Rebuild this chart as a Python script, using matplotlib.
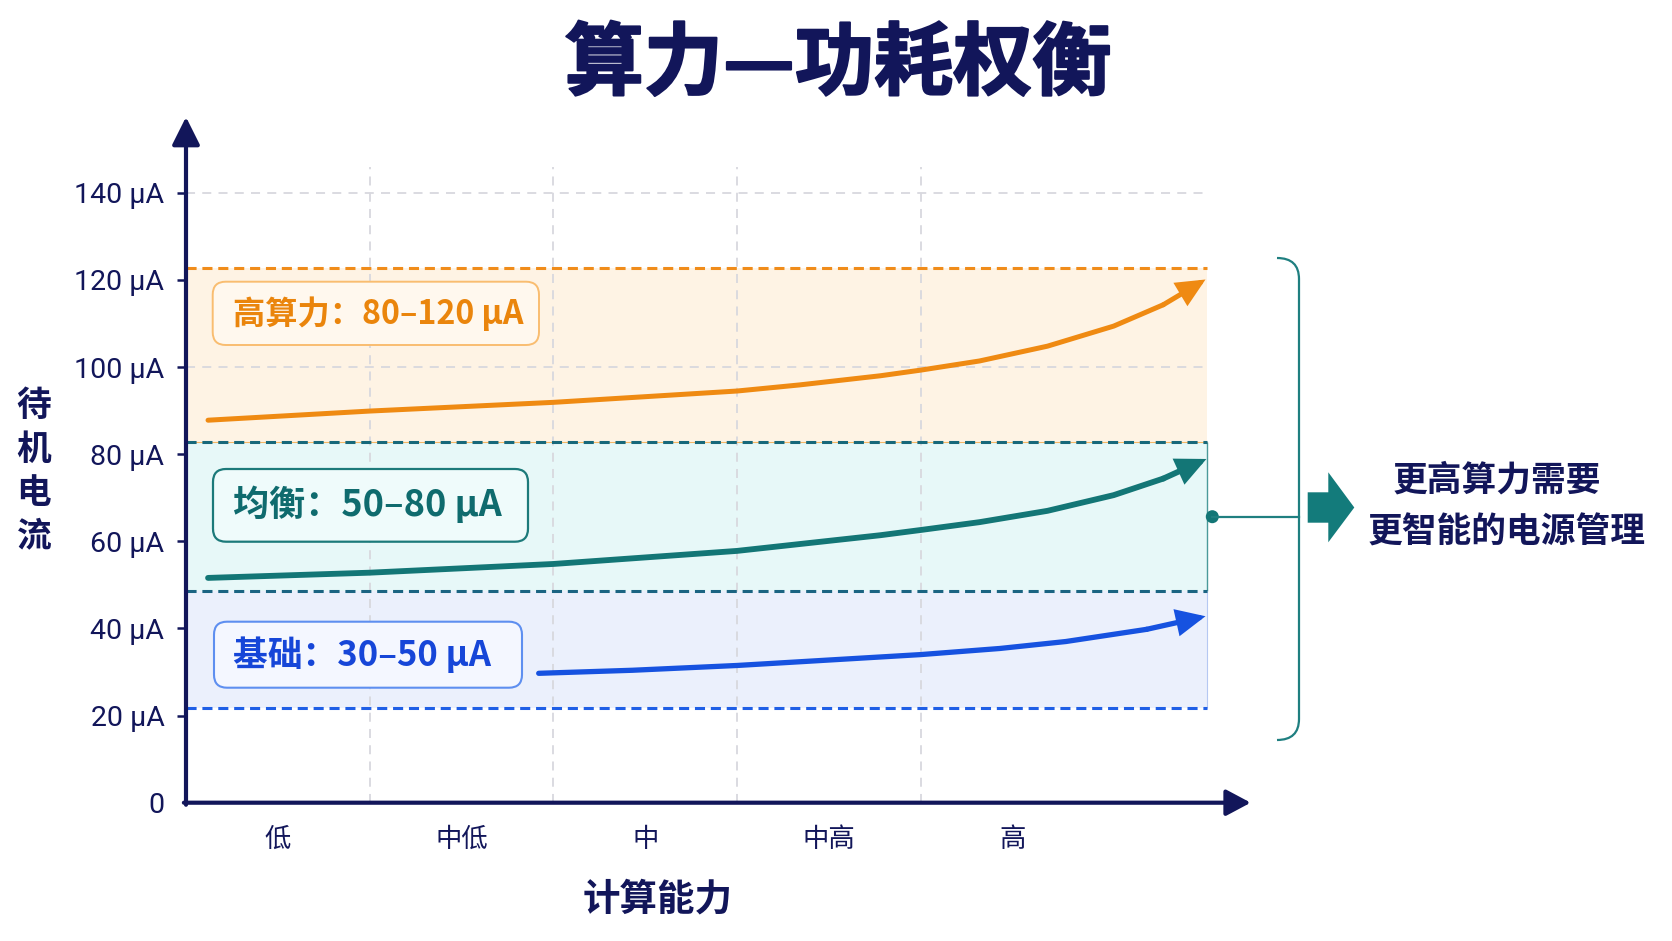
import matplotlib
matplotlib.use("Agg")
import matplotlib.pyplot as plt
import matplotlib.transforms as mtransforms
import matplotlib.patheffects as pe
from matplotlib.patches import FancyBboxPatch, Polygon, PathPatch, Circle
from matplotlib.path import Path
from matplotlib.lines import Line2D

plt.rcParams['font.family'] = ['Noto Sans CJK SC', 'DejaVu Sans']

W, H = 1672, 941

# ---- data ----
levels = ["低", "中低", "中", "中高", "高"]
level_pos = [0.5, 1.5, 2.5, 3.5, 4.5]
level_bounds = [1, 2, 3, 4]

y_ticks = [0, 20, 40, 60, 80, 100, 120, 140]
y_tick_labels = ["0"] + [f"{v} μA" for v in y_ticks[1:]]
grid_y = [100, 140]

# band edges (μA): base bottom, base/mid, mid/high, high top
band_edges = [21.7, 48.6, 82.7, 122.8]
band_end = 5.56

high_x = [0.12, 1.0, 2.0, 3.0, 3.34, 3.78, 4.0, 4.32, 4.69, 5.05, 5.32, 5.55]
high_y = [87.8, 89.9, 91.9, 94.5, 95.9, 98.0, 99.3, 101.4, 104.8, 109.4, 114.3, 120.1]
mid_x = [0.12, 1.0, 2.0, 3.0, 3.78, 4.0, 4.32, 4.69, 5.05, 5.32, 5.555]
mid_y = [51.6, 52.8, 54.8, 57.8, 61.4, 62.6, 64.4, 67.0, 70.6, 74.4, 78.9]
base_x = [1.92, 2.43, 3.0, 4.0, 4.43, 4.79, 5.23, 5.55]
base_y = [29.7, 30.4, 31.5, 34.0, 35.4, 37.0, 39.8, 42.8]

labels = ["高算力：80–120 μA", "均衡：50–80 μA", "基础：30–50 μA"]

# ---- colours ----
NAVY = "#12165a"
ORANGE = "#ef8a12"
TEAL = "#137676"
BLUE = "#1652e0"
GRID = "#d8d8de"

fig = plt.figure(figsize=(W / 100, H / 100), dpi=100)
fig.patch.set_facecolor("white")
# pixel coordinates (origin top-left) -> figure
px = mtransforms.Affine2D().scale(1 / W, -1 / H).translate(0, 1) + fig.transFigure

x0_px, x1_px, y0_px, y1_px = 186, 1250.7, 802.7, 117
ax = fig.add_axes([x0_px / W, 1 - y0_px / H, (x1_px - x0_px) / W, (y0_px - y1_px) / H])
ax.set_xlim(0, 5.796)
ax.set_ylim(0, 157.4)
for s in ax.spines.values():
    s.set_visible(False)
ax.patch.set_alpha(0)

# bands
ax.fill_between([0, band_end], band_edges[2], band_edges[3], color="#fef3e4", lw=0, zorder=0.5)
ax.fill_between([0, band_end], band_edges[1], band_edges[2], color="#e7f8f8", lw=0, zorder=0.5)
ax.fill_between([0, band_end], band_edges[0], band_edges[1], color="#ebf0fc", lw=0, zorder=0.5)

# grid
ax.vlines(level_bounds, 0, 146, colors=GRID, lw=1.3, linestyles=(0, (5, 4)), zorder=0.8)
ax.hlines(grid_y, 0, 5.57, colors=GRID, lw=1.3, linestyles=(0, (5, 4)), zorder=0.8)

# band boundaries
dash = (0, (3.3, 1.9))
ax.hlines(band_edges[2], 0, band_end, colors="#f6b766", lw=0.8, zorder=1)
ax.hlines(band_edges[3], 0, band_end, colors="#f08c1a", lw=2.2, linestyles=dash, zorder=1.1)
ax.hlines(band_edges[2], 0, band_end, colors="#17687a", lw=2.2, linestyles=dash, zorder=1.1)
ax.hlines(band_edges[1], 0, band_end, colors="#1a6482", lw=2.2, linestyles=dash, zorder=1.1)
ax.hlines(band_edges[0], 0, band_end, colors="#1f5fe6", lw=2.2, linestyles=dash, zorder=1.1)
ax.vlines(band_end, band_edges[1], band_edges[2], colors="#4a9a9a", lw=1.0, zorder=1)
ax.vlines(band_end, band_edges[0], band_edges[1], colors="#b5c8f2", lw=0.8, zorder=1)

# curves with arrow heads
for xs, ys, c, lw in [(high_x, high_y, ORANGE, 3.6), (mid_x, mid_y, TEAL, 4.2), (base_x, base_y, BLUE, 3.8)]:
    ax.plot(xs[:-1], ys[:-1], color=c, lw=lw, solid_capstyle="round", solid_joinstyle="round", zorder=4)
    ax.annotate("", xy=(xs[-1], ys[-1]), xytext=(xs[-2], ys[-2]),
                arrowprops=dict(arrowstyle="-|>,head_length=1.5,head_width=0.7", mutation_scale=10,
                                lw=lw, color=c, shrinkA=0, shrinkB=0, joinstyle="miter"),
                zorder=4)

# axes with arrows
ax.annotate("", xy=(1, 0), xytext=(-0.002, 0), xycoords="axes fraction",
            arrowprops=dict(arrowstyle="-|>,head_length=1.5,head_width=0.8", mutation_scale=10,
                            lw=3, color=NAVY, shrinkA=0, shrinkB=0), annotation_clip=False, zorder=5)
ax.annotate("", xy=(0, 1), xytext=(0, -0.003), xycoords="axes fraction",
            arrowprops=dict(arrowstyle="-|>,head_length=1.7,head_width=0.85", mutation_scale=10,
                            lw=3, color=NAVY, shrinkA=0, shrinkB=0), annotation_clip=False, zorder=5)

# ticks
ax.set_yticks(y_ticks, y_tick_labels)
ax.set_xticks(level_pos, levels)
ax.tick_params(axis="y", length=6.5, width=1.8, color=NAVY, pad=9, labelsize=20.5, labelcolor=NAVY)
ax.tick_params(axis="x", length=0, pad=17, labelsize=19, labelcolor=NAVY)
ax.yaxis.get_major_ticks()[0].tick1line.set_visible(False)
for t in ax.get_yticklabels():
    t.set_fontfamily(["Roboto", "DejaVu Sans"])

ax.set_xlabel("计算能力", fontsize=27, fontweight="bold", color=NAVY, va="center")
ax.xaxis.set_label_coords((658 - x0_px) / (x1_px - x0_px), (y0_px - 899) / (y0_px - y1_px))
ax.set_ylabel("待\n机\n电\n流", fontsize=25, fontweight="bold", color=NAVY, rotation=0,
              ha="center", va="center", linespacing=1.3)
ax.yaxis.set_label_coords((34 - x0_px) / (x1_px - x0_px), (y0_px - 471) / (y0_px - y1_px))

# label boxes
boxes = [((212.7, 281.7, 539, 345), "#f9bd70", "#fff8ee", "#ea850c", 23.2, 1.4),
         ((213, 469, 528, 541.7), "#1c7a7a", "#effbfb", "#0f6b6e", 26, 1.6),
         ((214, 621.7, 522, 687.7), "#5e8ff0", "#f4f7ff", "#1646d8", 25, 1.5)]
for box, text in zip(boxes, labels):
    (bx0, by0, bx1, by1), ec, fc, tc, fs, blw = box
    fig.patches.append(FancyBboxPatch((bx0, by0), bx1 - bx0, by1 - by0,
                                      boxstyle="round,pad=0,rounding_size=13",
                                      transform=px, fc=fc, ec=ec, lw=blw, zorder=3))
    fig.text(233, (by0 + by1) / 2, text, transform=px, fontsize=fs, fontweight="bold",
             color=tc, ha="left", va="center", zorder=3.5)

# bracket, connector, big arrow
bracket = Path([(1277, 258), (1299, 258), (1299, 279), (1299, 719), (1299, 740), (1277, 740)],
               [Path.MOVETO, Path.CURVE3, Path.CURVE3, Path.LINETO, Path.CURVE3, Path.CURVE3])
fig.patches.append(PathPatch(bracket, transform=px, fc="none", ec="#1f7f80", lw=1.6))
fig.lines.append(Line2D([1212.3, 1299], [516.7, 516.7], transform=px, color="#1f7f80", lw=1.6))
fig.patches.append(Circle((1212.3, 516.7), 6.5, transform=px, fc=TEAL, ec="none"))
fig.patches.append(Polygon([(1307.7, 492.3), (1328.3, 492.3), (1328.3, 472.3), (1354.3, 507.5),
                            (1328.3, 542.3), (1328.3, 522.7), (1307.7, 522.7)],
                           closed=True, transform=px, fc="#137b7b", ec="none"))

fig.text(1497, 480, "更高算力需要", transform=px, fontsize=25, fontweight="bold", color=NAVY,
         ha="center", va="center")
fig.text(1506.5, 532, "更智能的电源管理", transform=px, fontsize=25, fontweight="bold", color=NAVY,
         ha="center", va="center")

# title
fig.text(838, 65, "算力—功耗权衡", transform=px, fontsize=57, fontweight="bold", color=NAVY,
         ha="center", va="center",
         path_effects=[pe.withStroke(linewidth=1.5, foreground=NAVY)])

fig.savefig("out.png", dpi=100)
